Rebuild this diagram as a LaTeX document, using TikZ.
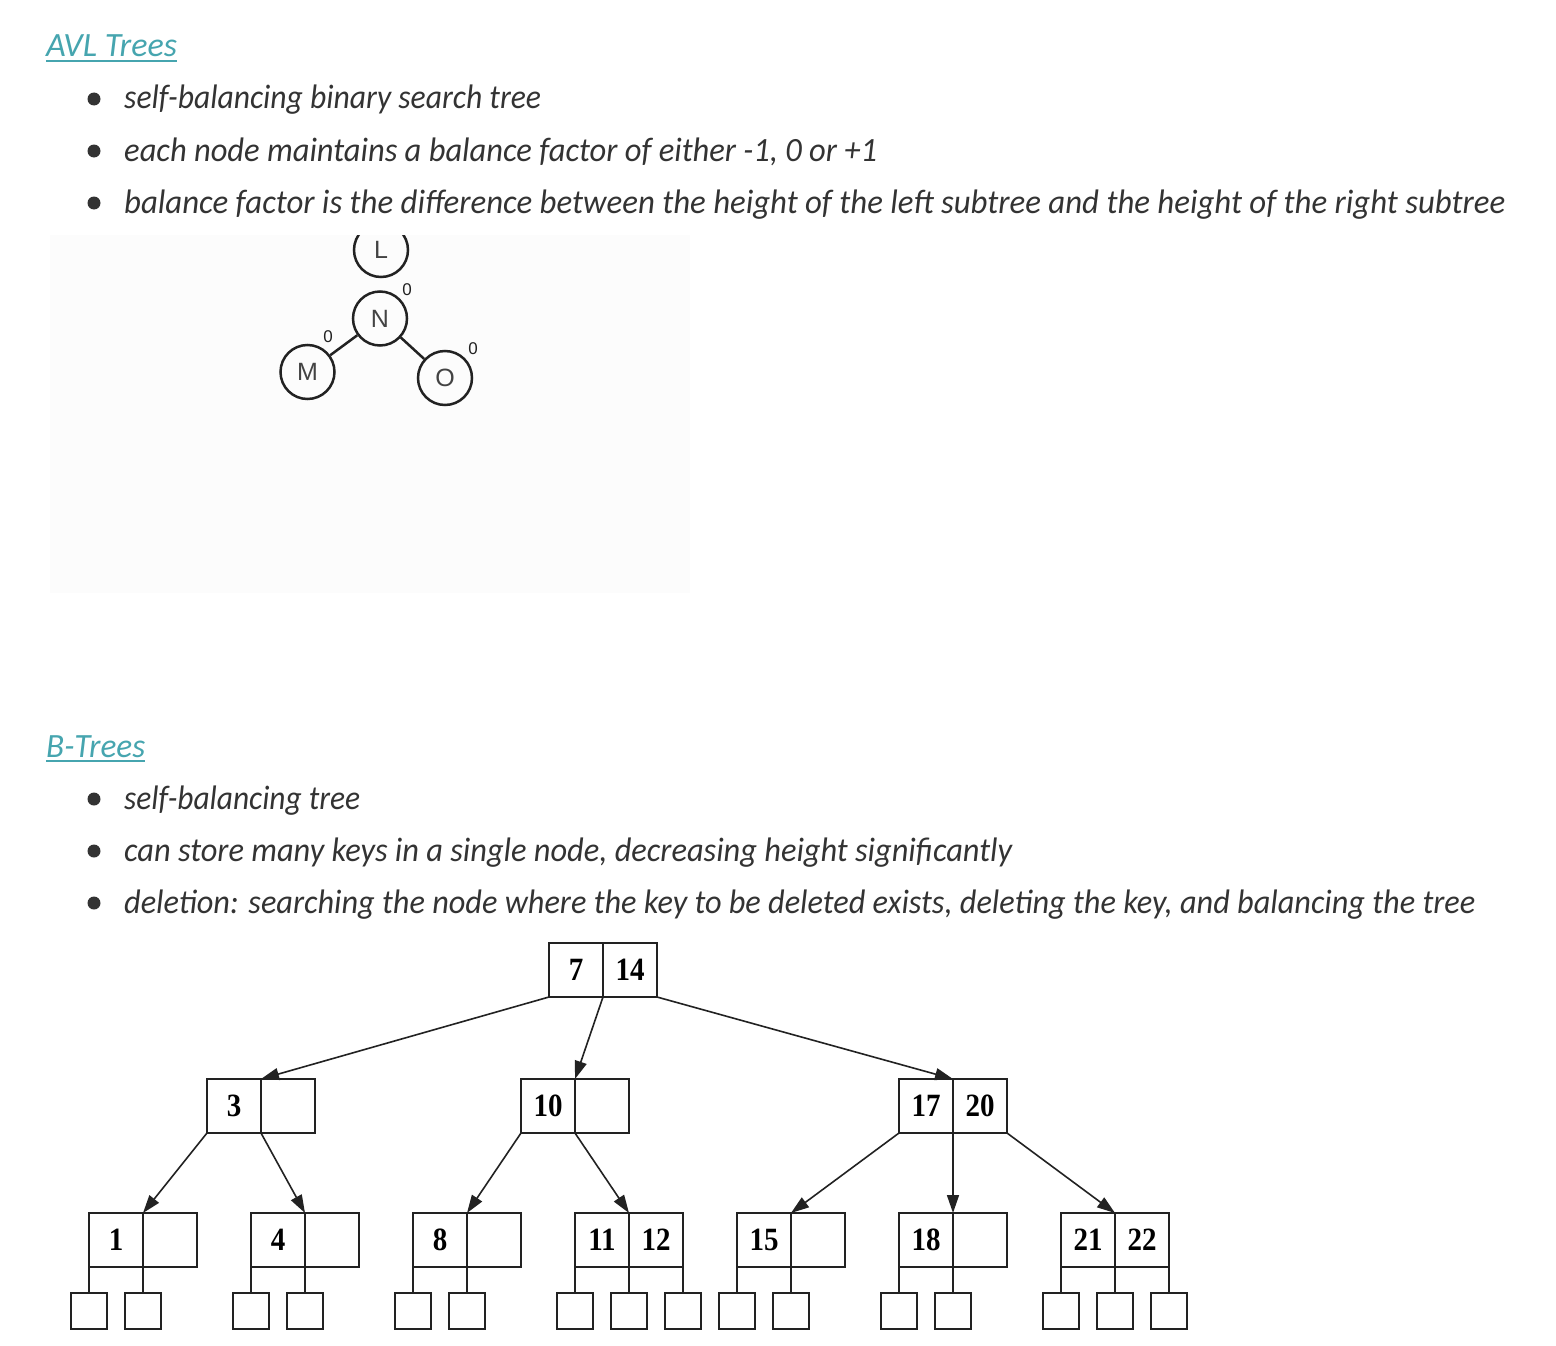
\documentclass[tikz,border=0pt]{standalone}
\usepackage{fontspec}
\usepackage{graphicx}
\newfontfamily\hand{Carlito}
\newfontfamily\circfont{Liberation Sans}
\newfontfamily\numfont{Liberation Serif}
\usetikzlibrary{arrows.meta}
\definecolor{teal1}{RGB}{70,165,175}
\definecolor{txt}{RGB}{51,51,51}
\definecolor{ink}{RGB}{34,34,34}
\definecolor{panel}{RGB}{252,252,252}
\newcommand\fitw[2]{\resizebox{#1}{\height}{#2}}
\newcommand\nm[1]{{\numfont\bfseries\fontsize{29}{29}\selectfont\scalebox{1}[1.12]{#1}}}
\begin{document}
\begin{tikzpicture}[x=1pt,y=-1pt,
  txtline/.style={anchor=base west, inner sep=0, text=txt, font=\hand\itshape\fontsize{34}{34}\selectfont},
  head/.style={anchor=base west, inner sep=0, text=teal1, font=\hand\itshape\fontsize{34}{34}\selectfont},
  bul/.style={circle, fill=txt, inner sep=0, minimum size=13pt},
  circ/.style={circle, draw=ink, line width=2.5pt, minimum size=54pt, inner sep=0, text=ink!85, font=\circfont\fontsize{25}{25}\selectfont},
  bf/.style={inner sep=0, text=ink, font=\circfont\fontsize{17}{17}\selectfont},
  cell/.style={draw=ink, line width=2pt, minimum width=54pt, minimum height=54pt, inner sep=0, outer sep=0},
  leaf/.style={draw=ink, line width=2pt, minimum size=36pt, inner sep=0, outer sep=0},
  conn/.style={draw=ink, line width=2pt},
  arr/.style={draw=ink, line width=1.6pt, -{Triangle[length=18pt,width=12pt]}},
  uline/.style={draw=teal1, line width=2pt}
]
\useasboundingbox[fill=white] (0,0) rectangle (1556,1346);

% ---------- AVL section ----------
\node[head] (avl) at (46,57) {\fitw{131pt}{AVL Trees}};
\draw[uline] ([yshift=-4pt]avl.base west) -- ([yshift=-4pt]avl.base east);
\node[bul] (b1) at (94,99) {};
\node[txtline] (t1) at (124,109) {\fitw{417pt}{self-balancing binary search tree}};
\node[bul] (b2) at (94,151) {};
\node[txtline] (t2) at (124,161) {\fitw{753pt}{each node maintains a balance factor of either -1, 0 or +1}};
\node[bul] (b3) at (94,203) {};
\node[txtline] (t3) at (124,213) {\fitw{1381pt}{balance factor is the difference between the height of the left subtree and the height of the right subtree}};

\fill[panel] (50,235) rectangle (690,593);
\begin{scope}
\clip (50,235) rectangle (690,593);
\node[circ] (L) at (381,250) {L};
\end{scope}
\node[circ] (N) at (380,318.5) {N};
\node[circ] (M) at (307.5,372) {M};
\node[circ] (O) at (445,378) {O};
\draw[ink, line width=2.5pt] (N) -- (M);
\draw[ink, line width=2.5pt] (N) -- (O);
\node[bf] (bN) at (407,290) {0};
\node[bf] (bM) at (328,337) {0};
\node[bf] (bO) at (473,349) {0};

% ---------- B-tree section ----------
\node[head] (bt) at (46,757) {\fitw{99pt}{B-Trees}};
\draw[uline] ([yshift=-4pt]bt.base west) -- ([yshift=-4pt]bt.base east);
\node[bul] (b4) at (94,799) {};
\node[txtline] (t4) at (124,809) {\fitw{236pt}{self-balancing tree}};
\node[bul] (b5) at (94,851) {};
\node[txtline] (t5) at (124,861) {\fitw{888pt}{can store many keys in a single node, decreasing height significantly}};
\node[bul] (b6) at (94,903) {};
\node[txtline] (t6) at (124,913) {\fitw{1351pt}{deletion: searching the node where the key to be deleted exists, deleting the key, and balancing the tree}};

% root
\node[cell] (r1) at (576,970) {\nm{7}};
\node[cell] (r2) at (630,970) {\nm{14}};
% level 2
\node[cell] (a1) at (234,1106) {\nm{3}};
\node[cell] (a2) at (288,1106) {};
\node[cell] (c1) at (548,1106) {\nm{10}};
\node[cell] (c2) at (602,1106) {};
\node[cell] (e1) at (926,1106) {\nm{17}};
\node[cell] (e2) at (980,1106) {\nm{20}};
% level 3
\node[cell] (d1) at (116,1240) {\nm{1}};
\node[cell] (d2) at (170,1240) {};
\node[cell] (f1) at (278,1240) {\nm{4}};
\node[cell] (f2) at (332,1240) {};
\node[cell] (g1) at (440,1240) {\nm{8}};
\node[cell] (g2) at (494,1240) {};
\node[cell] (h1) at (602,1240) {\nm{11}};
\node[cell] (h2) at (656,1240) {\nm{12}};
\node[cell] (i1) at (764,1240) {\nm{15}};
\node[cell] (i2) at (818,1240) {};
\node[cell] (j1) at (926,1240) {\nm{18}};
\node[cell] (j2) at (980,1240) {};
\node[cell] (k1) at (1088,1240) {\nm{21}};
\node[cell] (k2) at (1142,1240) {\nm{22}};
% leaves
\node[leaf] (dl1) at (89,1311) {};
\node[leaf] (dl2) at (143,1311) {};
\node[leaf] (fl1) at (251,1311) {};
\node[leaf] (fl2) at (305,1311) {};
\node[leaf] (gl1) at (413,1311) {};
\node[leaf] (gl2) at (467,1311) {};
\node[leaf] (hl1) at (575,1311) {};
\node[leaf] (hl2) at (629,1311) {};
\node[leaf] (hl3) at (683,1311) {};
\node[leaf] (il1) at (737,1311) {};
\node[leaf] (il2) at (791,1311) {};
\node[leaf] (jl1) at (899,1311) {};
\node[leaf] (jl2) at (953,1311) {};
\node[leaf] (kl1) at (1061,1311) {};
\node[leaf] (kl2) at (1115,1311) {};
\node[leaf] (kl3) at (1169,1311) {};
% leaf connectors
\draw[conn] (d1.south west) -- (dl1.north);
\draw[conn] (d1.south east) -- (dl2.north);
\draw[conn] (f1.south west) -- (fl1.north);
\draw[conn] (f1.south east) -- (fl2.north);
\draw[conn] (g1.south west) -- (gl1.north);
\draw[conn] (g1.south east) -- (gl2.north);
\draw[conn] (h1.south west) -- (hl1.north);
\draw[conn] (h1.south east) -- (hl2.north);
\draw[conn] (h2.south east) -- (hl3.north);
\draw[conn] (i1.south west) -- (il1.north);
\draw[conn] (i1.south east) -- (il2.north);
\draw[conn] (j1.south west) -- (jl1.north);
\draw[conn] (j1.south east) -- (jl2.north);
\draw[conn] (k1.south west) -- (kl1.north);
\draw[conn] (k1.south east) -- (kl2.north);
\draw[conn] (k2.south east) -- (kl3.north);
% arrows
\draw[arr] (r1.south west) -- (a1.north east);
\draw[arr] (r1.south east) -- (c1.north east);
\draw[arr] (r2.south east) -- (e1.north east);
\draw[arr] (a1.south west) -- (d1.north east);
\draw[arr] (a1.south east) -- (f1.north east);
\draw[arr] (c1.south west) -- (g1.north east);
\draw[arr] (c1.south east) -- (h1.north east);
\draw[arr] (e1.south west) -- (i1.north east);
\draw[arr] (e1.south east) -- (j1.north east);
\draw[arr] (e2.south east) -- (k1.north east);
\end{tikzpicture}
\end{document}
